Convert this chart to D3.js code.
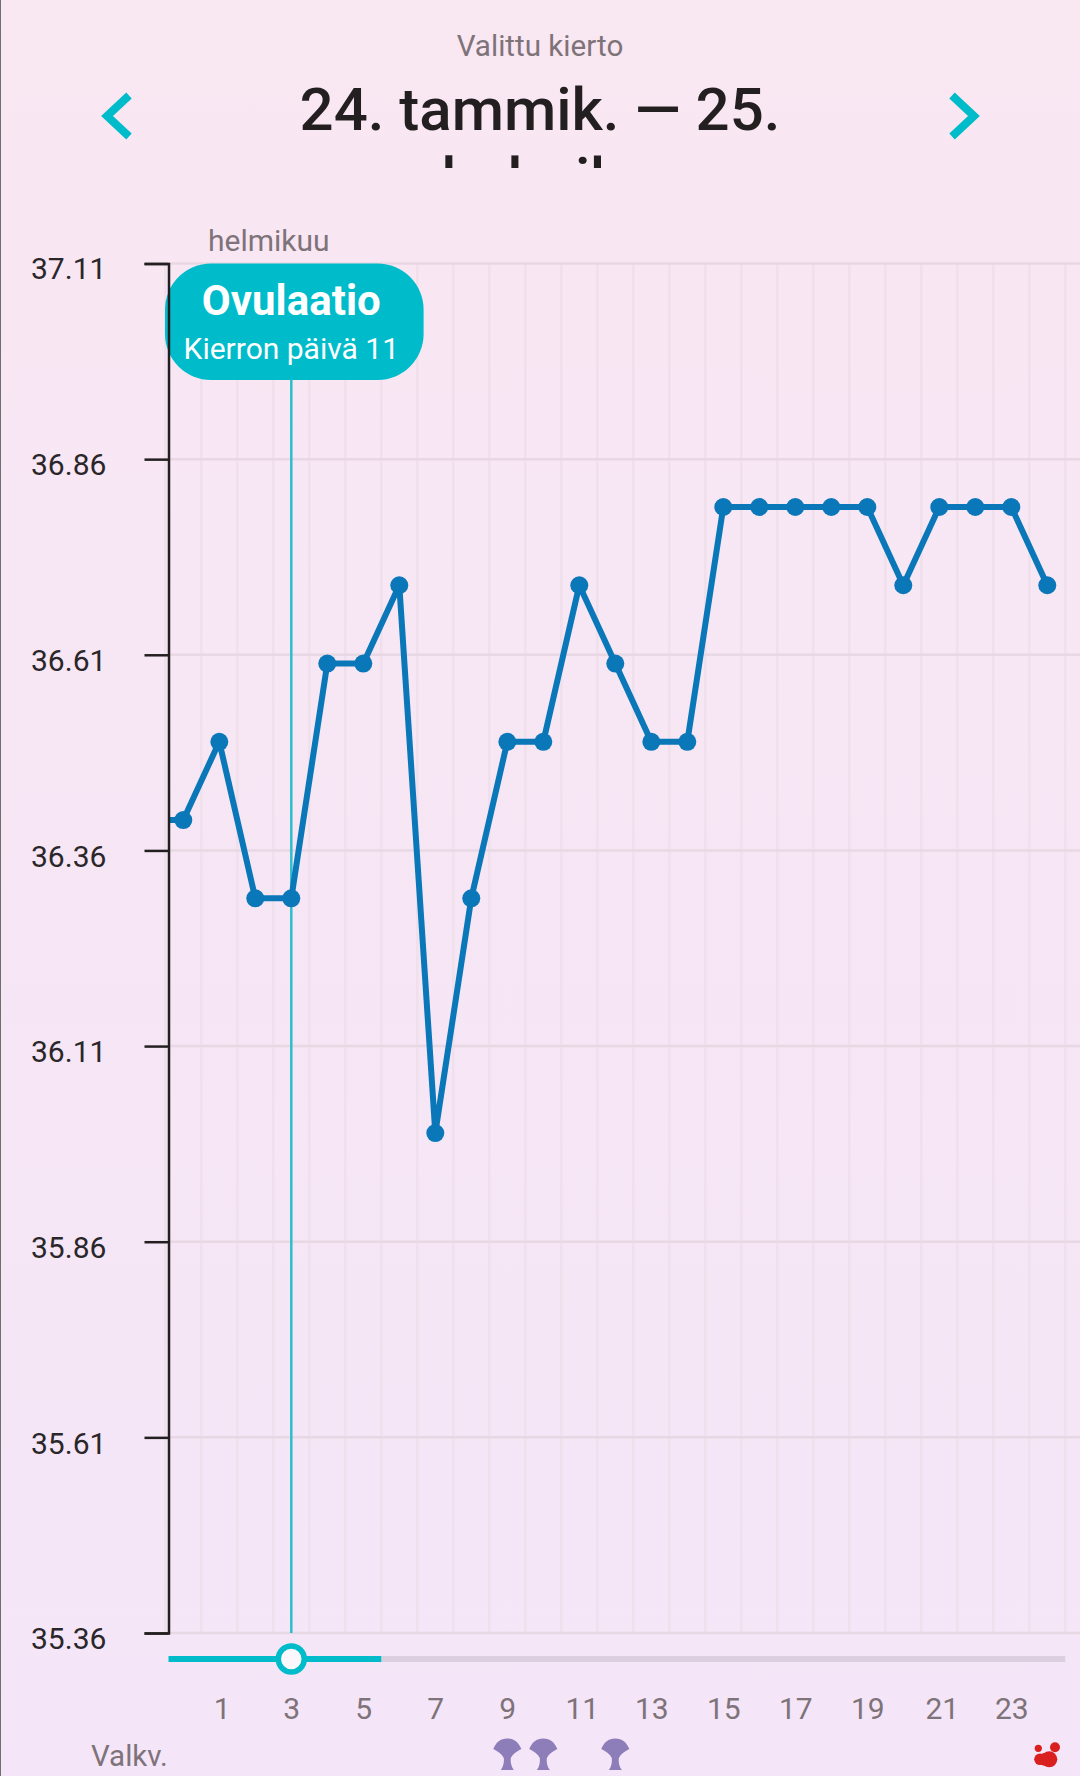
<!DOCTYPE html>
<html>
<head>
<meta charset="utf-8">
<script src="https://cdn.jsdelivr.net/npm/d3@7"></script>
<style>
html, body { margin: 0; padding: 0; }
text { font-family: Roboto, sans-serif; }
</style>
</head>
<body>
<script>
// day -1 is only the stub that runs in from the previous cycle, clipped at the axis
var days = [-1, 0, 1, 2, 3, 4, 5, 6, 7, 8, 9, 10, 11, 12, 13, 14, 15, 16, 17, 18, 19, 20, 21, 22, 23, 24];
var temps = [36.4, 36.4, 36.5, 36.3, 36.3, 36.6, 36.6, 36.7, 36.0, 36.3, 36.5, 36.5, 36.7, 36.6, 36.5, 36.5, 36.8, 36.8, 36.8, 36.8, 36.8, 36.7, 36.8, 36.8, 36.8, 36.7];
var y_ticks = [37.11, 36.86, 36.61, 36.36, 36.11, 35.86, 35.61, 35.36];
var x_ticks = [1, 3, 5, 7, 9, 11, 13, 15, 17, 19, 21, 23];
var mucus_days = [9, 10, 12];
var bleeding_days = [24];
var ovulation_day = 3;
var fertile_end = 5.5;

var width = 1080, height = 1776;
var teal = "#00bccb", blue = "#0a77b9", grey_text = "#7e7379";

var x = d3.scaleLinear().domain([0, 24]).range([183.3, 1047.3]);
var y = d3.scaleLinear().domain([35.36, 37.11]).range([1633, 263.5]);
var axis_x = 168.5;

var svg = d3.select("body").append("svg")
	.attr("width", width).attr("height", height)
	.style("display", "block");

var defs = svg.append("defs");
var bg = defs.append("linearGradient").attr("id", "bg")
	.attr("x1", 0).attr("x2", 0).attr("y1", 0).attr("y2", 1);
bg.append("stop").attr("offset", "0%").attr("stop-color", "#f9e7f2");
bg.append("stop").attr("offset", "100%").attr("stop-color", "#f4e6f8");
defs.append("clipPath").attr("id", "plot_clip").append("rect")
	.attr("x", axis_x).attr("y", 200).attr("width", width - axis_x).attr("height", 1500);
defs.append("clipPath").attr("id", "title_clip").append("rect")
	.attr("x", 0).attr("y", 60).attr("width", width).attr("height", 108);

svg.append("rect").attr("width", width).attr("height", height).attr("fill", "url(#bg)");
svg.append("rect").attr("width", 1).attr("height", height).attr("fill", "#6f6f6f");

// header
svg.append("text").attr("x", 540).attr("y", 56).attr("text-anchor", "middle")
	.attr("font-size", 29.6).attr("fill", grey_text).text("Valittu kierto");

var title = svg.append("g").attr("clip-path", "url(#title_clip)")
	.attr("text-anchor", "middle").attr("font-size", 60).attr("font-weight", 500).attr("fill", "#231f20");
title.append("text").attr("x", 540).attr("y", 129.5).text("24. tammik. — 25.");
title.append("text").attr("x", 540).attr("y", 199.5).text("helmik.");

[[129, 107], [952, 974]].forEach(function(c) {
	svg.append("path")
		.attr("d", d3.line()([[c[0], 95.5], [c[1], 116], [c[0], 136.5]]))
		.attr("fill", "none").attr("stroke", teal).attr("stroke-width", 8);
});

svg.append("text").attr("x", 208).attr("y", 250.5)
	.attr("font-size", 30).attr("fill", grey_text).text("helmikuu");

// grid
var grid = svg.append("g");
grid.selectAll(".vgrid").data(days).enter().append("line")
	.attr("class", "vgrid")
	.attr("x1", function(d) { return x(d + 0.5); }).attr("x2", function(d) { return x(d + 0.5); })
	.attr("y1", y.range()[1]).attr("y2", y.range()[0])
	.attr("stroke", "#efe0ec").attr("stroke-width", 2.5);
grid.selectAll(".hgrid").data(y_ticks).enter().append("line")
	.attr("class", "hgrid")
	.attr("x1", axis_x).attr("x2", width)
	.attr("y1", function(d) { return y(d); }).attr("y2", function(d) { return y(d); })
	.attr("stroke", "#e8d8e3").attr("stroke-width", 2.5);

// ovulation marker line
svg.append("line")
	.attr("x1", x(ovulation_day)).attr("x2", x(ovulation_day))
	.attr("y1", 380).attr("y2", y.range()[0])
	.attr("stroke", "#2dbecb").attr("stroke-width", 2.5);

// temperature line and points
var plot = svg.append("g").attr("clip-path", "url(#plot_clip)");
var points = days.map(function(d, i) { return {day: d, temp: temps[i]}; });
var marks = plot.append("g").attr("transform", "translate(0,0.9)");
marks.append("path").datum(points)
	.attr("fill", "none").attr("stroke", blue).attr("stroke-width", 6).attr("stroke-linejoin", "round")
	.attr("d", d3.line().x(function(d) { return x(d.day); }).y(function(d) { return y(d.temp); }));
marks.selectAll("circle").data(points.filter(function(d) { return d.day >= 0; })).enter().append("circle")
	.attr("cx", function(d) { return x(d.day); })
	.attr("cy", function(d) { return y(d.temp); })
	.attr("r", 9).attr("fill", blue);

// ovulation bubble
svg.append("rect")
	.attr("x", 165).attr("y", y.range()[1])
	.attr("width", 258.6).attr("height", 116.5).attr("rx", 46)
	.attr("fill", teal);
svg.append("text").attr("x", x(ovulation_day)).attr("y", 315).attr("text-anchor", "middle")
	.attr("font-size", 42).attr("font-weight", 700).attr("fill", "#fff").text("Ovulaatio");
svg.append("text").attr("x", x(ovulation_day)).attr("y", 359).attr("text-anchor", "middle")
	.attr("font-size", 30).attr("fill", "#fff").text("Kierron päivä 11");

// y axis
var y_axis = svg.append("g")
	.attr("transform", "translate(" + axis_x + ",0)")
	.call(d3.axisLeft(y).tickValues(y_ticks).tickSize(24).tickSizeOuter(24).tickFormat(d3.format(".2f")));
y_axis.select(".domain").attr("stroke", "#231f20").attr("stroke-width", 2.5);
y_axis.selectAll(".tick line").attr("stroke", "#231f20").attr("stroke-width", 2.5);
y_axis.selectAll(".tick text")
	.attr("x", 31 - axis_x).attr("dy", function(d) { return d == y_ticks[0] ? 14.5 : 15.8; })
	.attr("text-anchor", "start")
	.attr("font-family", "Roboto").attr("font-size", 30).attr("fill", "#2a2629");

// slider under the plot
var slider_y = 1659;
svg.append("line").attr("x1", x(fertile_end)).attr("x2", x(24.5))
	.attr("y1", slider_y).attr("y2", slider_y)
	.attr("stroke", "#dccfe0").attr("stroke-width", 6);
svg.append("line").attr("x1", axis_x).attr("x2", x(fertile_end))
	.attr("y1", slider_y).attr("y2", slider_y)
	.attr("stroke", teal).attr("stroke-width", 6);
svg.append("circle").attr("cx", x(ovulation_day)).attr("cy", slider_y).attr("r", 13)
	.attr("fill", "#fbf8fc").attr("stroke", teal).attr("stroke-width", 5.5);

// x axis
var x_axis = svg.append("g")
	.attr("transform", "translate(0,1719)")
	.call(d3.axisBottom(x).tickValues(x_ticks).tickSize(0));
x_axis.select(".domain").remove();
x_axis.selectAll(".tick text")
	.attr("y", 0).attr("dy", 0)
	.attr("dx", function(d) { return d % 10 == 1 ? 2.5 : 0; }) // the final 1 sits further right in the original
	.attr("font-family", "Roboto").attr("font-size", 30).attr("fill", grey_text);

// bottom row symbols
svg.append("text").attr("x", 91).attr("y", 1766)
	.attr("font-size", 29.5).attr("fill", grey_text).text("Valkv.");

var mucus_icon = "M-14,-21 C-11,-28 -7,-31.5 0,-31.5 C7,-31.5 11,-28 14,-21 C9,-18.5 5.5,-16 3.5,-12 C3,-8 4,-3 6.5,0 L-6.5,0 C-4,-3 -3,-8 -3.5,-12 C-5.5,-16 -9,-18.5 -14,-21 Z";
svg.selectAll(".mucus").data(mucus_days).enter().append("path")
	.attr("class", "mucus")
	.attr("transform", function(d) { return "translate(" + x(d) + ",1770)"; })
	.attr("d", mucus_icon)
	.attr("fill", "#8d7db9");

var drop_offsets = [[2, 0, 8], [-7.3, 0, 5.8], [-9, -11, 3.6], [7.7, -12, 5], [-2, 0, 6.5]];
bleeding_days.forEach(function(day) {
	svg.selectAll(".drop").data(drop_offsets).enter().append("circle")
		.attr("class", "drop")
		.attr("cx", function(d) { return x(day) + d[0]; })
		.attr("cy", function(d) { return 1759.3 + d[1]; })
		.attr("r", function(d) { return d[2]; })
		.attr("fill", "#d9201f");
});
</script>
</body>
</html>
